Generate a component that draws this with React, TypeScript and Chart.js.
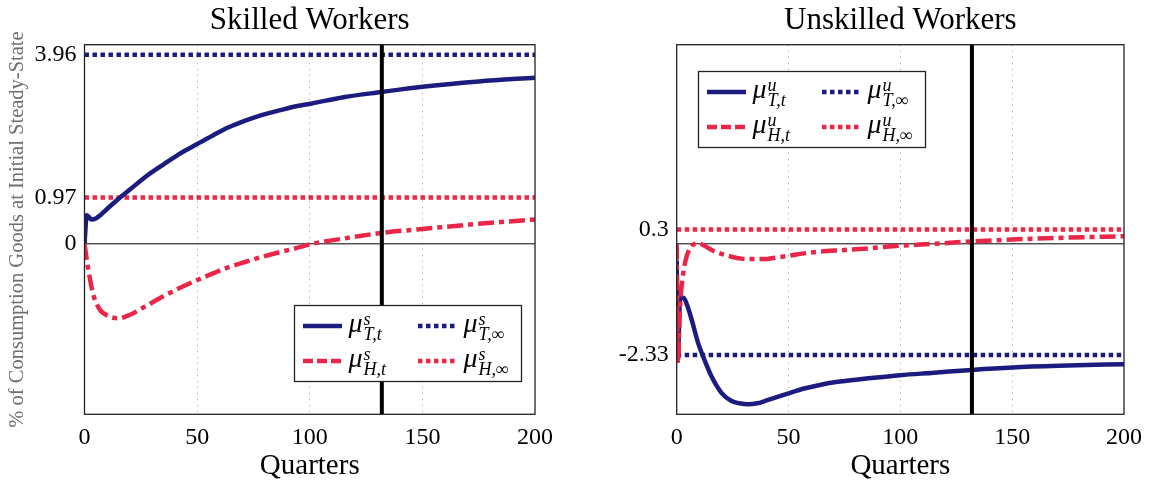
import React, { useEffect, useRef } from "react";
import { Chart, registerables } from "chart.js";
Chart.register(...registerables);

const NAVY = "rgb(28,28,128)";
const RED = "rgb(234,38,72)";
const FONT = "'Liberation Serif', 'Times New Roman', serif";

// axes
const xTicks = [0, 50, 100, 150, 200];
const xGridTicks = [50, 100, 150];
const markerQuarter = 132;
const yMin = -3.57;
const yMax = 4.17;

// Skilled workers
const skilledTQ = [0, 1, 2, 3, 5, 7, 10, 15, 20, 27, 35, 42, 50, 57, 64, 72, 79, 87, 94, 101, 115, 132, 150, 175, 200];
const skilledT = [0, 0.6, 0.56, 0.51, 0.53, 0.6, 0.73, 0.94, 1.13, 1.4, 1.66, 1.88, 2.09, 2.27, 2.44, 2.59, 2.7, 2.8, 2.88, 2.94, 3.07, 3.18, 3.29, 3.4, 3.48];
const skilledHQ = [0, 1.5, 3.7, 6.7, 11, 15, 20, 27, 35, 42, 50, 57, 64, 72, 79, 87, 94, 101, 115, 132, 150, 175, 200];
const skilledH = [0, -0.48, -1.03, -1.37, -1.52, -1.56, -1.49, -1.31, -1.1, -0.93, -0.76, -0.62, -0.49, -0.37, -0.27, -0.17, -0.09, 0.0, 0.11, 0.23, 0.31, 0.42, 0.51];
const skilledTInf = 3.96;
const skilledHInf = 0.97;
const skilledYTicks = [0, 0.97, 3.96];
const skilledYLabels = ["0", "0.97", "3.96"];

// Unskilled workers
const unskilledTQ = [0, 0.5, 1.5, 3, 3.7, 5, 6.7, 9.6, 12.6, 15.6, 20, 24.5, 28, 32, 36, 39, 44, 50, 57, 64.5, 72, 87, 100, 115, 132, 150, 175, 200];
const unskilledT = [-0.35, -2.4, -1.15, -1.13, -1.17, -1.33, -1.59, -2.08, -2.45, -2.78, -3.12, -3.29, -3.34, -3.36, -3.34, -3.3, -3.22, -3.13, -3.03, -2.95, -2.89, -2.81, -2.75, -2.7, -2.64, -2.59, -2.55, -2.52];
const unskilledHQ = [0, 0.5, 1.5, 2.2, 3.7, 6, 9.6, 12, 15.6, 20, 24.5, 29, 33, 39, 44, 50, 57, 64.5, 75, 87, 100, 115, 132, 150, 175, 200];
const unskilledH = [0, -2.5, -1.3, -0.89, -0.4, -0.09, 0.01, -0.03, -0.13, -0.21, -0.27, -0.31, -0.32, -0.32, -0.29, -0.25, -0.2, -0.16, -0.13, -0.09, -0.04, 0.0, 0.05, 0.09, 0.13, 0.16];
const unskilledTInf = -2.33;
const unskilledHInf = 0.3;
const unskilledYTicks = [-2.33, 0.3];
const unskilledYLabels = ["-2.33", "0.3"];

const pts = (xs: number[], ys: number[]) => xs.map((x, i) => ({ x, y: ys[i] }));
const flat = (v: number) => [{ x: xTicks[0], y: v }, { x: xTicks[xTicks.length - 1], y: v }];

const framePlugin = {
  id: "frame",
  afterDatasetsDraw(chart: any) {
    const { ctx, chartArea: a } = chart;
    ctx.save();
    ctx.strokeStyle = "#222";
    ctx.lineWidth = 1.3;
    ctx.strokeRect(a.left, a.top, a.right - a.left, a.bottom - a.top);
    ctx.restore();
  },
};

const mathLegendPlugin = {
  id: "mathLegend",
  afterDraw(chart: any, _args: any, opts: any) {
    if (!opts || !opts.items) return;
    const { ctx, chartArea: a } = chart;
    const bx = Math.round(a.left + opts.fx * (a.right - a.left)) + 0.5;
    const by = Math.round(a.top + opts.fy * (a.bottom - a.top)) + 0.5;
    const w = 227, h = 76;
    ctx.save();
    ctx.fillStyle = "#fff";
    ctx.fillRect(bx, by, w, h);
    ctx.strokeStyle = "#222";
    ctx.lineWidth = 1.3;
    ctx.strokeRect(bx, by, w, h);
    opts.items.forEach((it: any, i: number) => {
      const col = i % 2;
      const row = Math.floor(i / 2);
      const sx = bx + 8.5 + col * 115;
      const sy = by + 20.5 + row * 35;
      ctx.save();
      ctx.strokeStyle = it.color;
      ctx.lineWidth = 4.5;
      ctx.setLineDash(it.dash);
      ctx.beginPath();
      ctx.moveTo(sx, sy);
      ctx.lineTo(sx + 39, sy);
      ctx.stroke();
      ctx.restore();
      const tx = sx + 45.5;
      ctx.fillStyle = "#000";
      ctx.textBaseline = "alphabetic";
      ctx.textAlign = "left";
      ctx.font = `italic 28px ${FONT}`;
      ctx.fillText("\u03bc", tx, sy + 5.5);
      const mw = ctx.measureText("\u03bc").width;
      ctx.font = `italic 18px ${FONT}`;
      ctx.fillText(it.sup, tx + mw + 1, sy - 1.5);
      ctx.fillText(it.sub, tx + mw + 1, sy + 14);
    });
    ctx.restore();
  },
};

type Panel = {
  title: string;
  tQ: number[]; t: number[]; hQ: number[]; h: number[];
  tInf: number; hInf: number;
  yTicks: number[]; yLabels: string[];
  sup: string; yTitle: string | null;
  axisWidth: number; padRight: number; width: number;
  fx: number; fy: number;
};

function PanelChart({ p }: { p: Panel }) {
  const ref = useRef<HTMLCanvasElement | null>(null);
  useEffect(() => {
    if (!ref.current) return;
    const datasets: any[] = [
      { label: "marker", data: [{ x: markerQuarter, y: yMin - 1 }, { x: markerQuarter, y: yMax + 1 }], borderColor: "#000", borderWidth: 4 },
      { label: "H,t", data: pts(p.hQ, p.h), borderColor: RED, borderWidth: 4.5, borderDash: [16, 5, 5, 5], cubicInterpolationMode: "monotone" },
      { label: "T,t", data: pts(p.tQ, p.t), borderColor: NAVY, borderWidth: 4.5, cubicInterpolationMode: "monotone" },
      { label: "H,inf", data: flat(p.hInf), borderColor: RED, borderWidth: 4.5, borderDash: [4.5, 3.5] },
      { label: "T,inf", data: flat(p.tInf), borderColor: NAVY, borderWidth: 4.5, borderDash: [4.5, 3.5] },
      { label: "zero", data: flat(0), borderColor: "#000", borderWidth: 1 },
    ].map((d) => ({ ...d, pointRadius: 0, fill: false, borderCapStyle: "butt" }));

    const chart = new Chart(ref.current, {
      type: "line",
      data: { datasets },
      plugins: [framePlugin, mathLegendPlugin],
      options: {
        animation: false,
        responsive: false,
        maintainAspectRatio: false,
        layout: { padding: { left: 0, right: p.padRight, top: 0, bottom: 0 } },
        plugins: {
          legend: { display: false },
          tooltip: { enabled: false },
          title: {
            display: true,
            text: p.title,
            fullSize: false,
            color: "#000",
            font: { family: FONT, size: 31, weight: "normal" },
            padding: { top: 2.5, bottom: 5 },
          },
          mathLegend: {
            fx: p.fx,
            fy: p.fy,
            items: [
              { color: NAVY, dash: [], sup: p.sup, sub: "T,t" },
              { color: NAVY, dash: [4.5, 3.5], sup: p.sup, sub: "T,\u221e" },
              { color: RED, dash: [10, 4], sup: p.sup, sub: "H,t" },
              { color: RED, dash: [4.5, 3.5], sup: p.sup, sub: "H,\u221e" },
            ],
          },
        } as any,
        scales: {
          x: {
            type: "linear",
            min: xTicks[0],
            max: xTicks[xTicks.length - 1],
            afterBuildTicks: (s: any) => { s.ticks = xTicks.map((v) => ({ value: v })); },
            afterFit: (s: any) => { s.height = 69.7; },
            ticks: { color: "#000", font: { family: FONT, size: 24 }, padding: 9, maxRotation: 0 },
            grid: {
              drawTicks: false,
              lineWidth: 1,
              color: (c: any) => (c.tick && xGridTicks.includes(c.tick.value) ? "#b5b5b5" : "rgba(0,0,0,0)"),
            },
            border: { display: false, dash: [1.5, 4.5] },
            title: { display: true, text: "Quarters", color: "#000", font: { family: FONT, size: 29 }, padding: { top: 0, bottom: 0 } },
          },
          y: {
            type: "linear",
            min: yMin,
            max: yMax,
            afterBuildTicks: (s: any) => { s.ticks = p.yTicks.map((v) => ({ value: v })); },
            afterFit: (s: any) => { s.width = p.axisWidth; },
            ticks: {
              color: "#000",
              font: { family: FONT, size: 24 },
              padding: 8,
              callback: (v: any) => { const i = p.yTicks.indexOf(Number(v)); return i >= 0 ? p.yLabels[i] : ""; },
            },
            grid: { display: false, drawTicks: false },
            border: { display: false },
            title: p.yTitle
              ? { display: true, text: p.yTitle, color: "#6e6e6e", font: { family: FONT, size: 20.5 }, padding: { top: 5, bottom: 0 } }
              : { display: false },
          },
        },
      } as any,
    });
    return () => chart.destroy();
  }, [p]);
  return <canvas ref={ref} width={p.width} height={484} style={{ display: "block", width: p.width, height: 484 }} />;
}

const leftPanel: Panel = {
  title: "Skilled Workers",
  tQ: skilledTQ, t: skilledT, hQ: skilledHQ, h: skilledH,
  tInf: skilledTInf, hInf: skilledHInf,
  yTicks: skilledYTicks, yLabels: skilledYLabels,
  sup: "s", yTitle: "% of Consumption Goods at Initial Steady-State",
  axisWidth: 84.5, padRight: 41, width: 576,
  fx: 0.465, fy: 0.704,
};

const rightPanel: Panel = {
  title: "Unskilled Workers",
  tQ: unskilledTQ, t: unskilledT, hQ: unskilledHQ, h: unskilledH,
  tInf: unskilledTInf, hInf: unskilledHInf,
  yTicks: unskilledYTicks, yLabels: unskilledYLabels,
  sup: "u", yTitle: null,
  axisWidth: 100.7, padRight: 25, width: 575,
  fx: 0.048, fy: 0.071,
};

export default function App() {
  return (
    <div style={{ position: "absolute", left: 0, top: 0, width: 1151, height: 484, background: "#fff" }}>
      <div style={{ position: "absolute", left: 0, top: 0 }}>
        <PanelChart p={leftPanel} />
      </div>
      <div style={{ position: "absolute", left: 576, top: 0 }}>
        <PanelChart p={rightPanel} />
      </div>
    </div>
  );
}
